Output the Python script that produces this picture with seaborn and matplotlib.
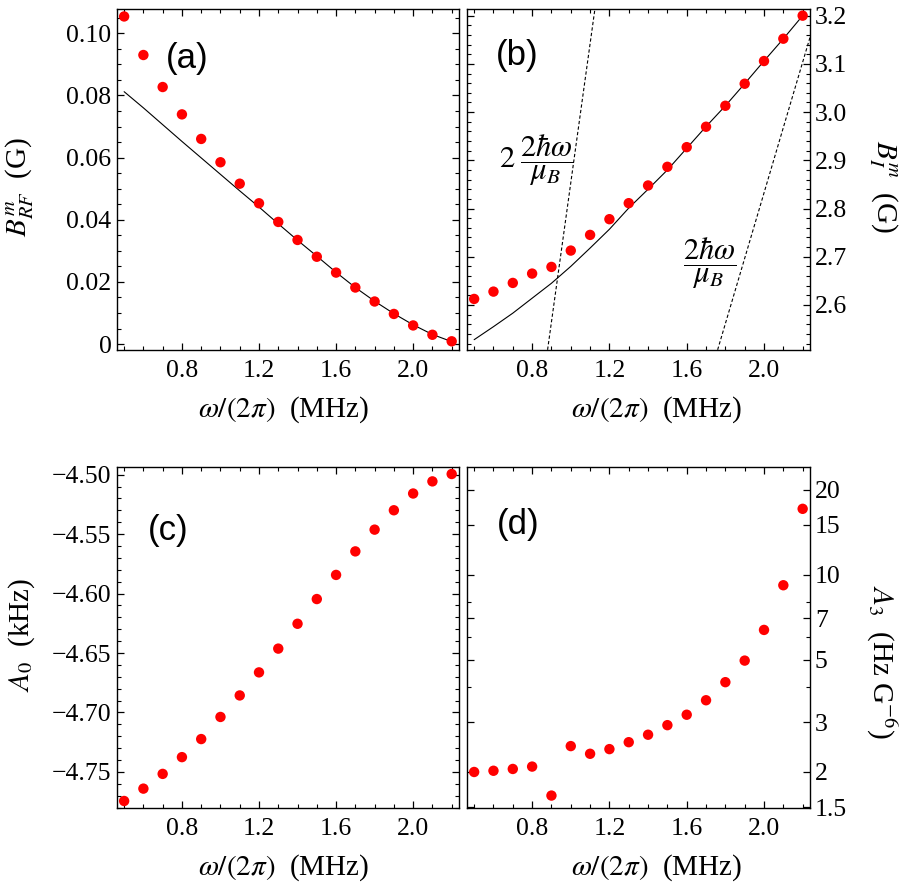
import matplotlib
matplotlib.use('Agg')
import matplotlib.pyplot as plt
import matplotlib.ticker as mticker
import seaborn as sns

# frequency omega/(2 pi) in MHz
freq = [0.5, 0.6, 0.7, 0.8, 0.9, 1.0, 1.1, 1.2, 1.3, 1.4,
        1.5, 1.6, 1.7, 1.8, 1.9, 2.0, 2.1, 2.2]

# (a) B_RF^m (G)
b_rf = [0.1054, 0.0930, 0.0827, 0.0739, 0.0660, 0.0585, 0.0516, 0.0453, 0.0393,
        0.0335, 0.0281, 0.0230, 0.0182, 0.0137, 0.0097, 0.0060, 0.0030, 0.0009]
b_rf_fit = [0.0812, 0.0760, 0.0706, 0.0652, 0.0599, 0.0546, 0.0493, 0.0441, 0.0387,
            0.0334, 0.0283, 0.0231, 0.0182, 0.0138, 0.0098, 0.0062, 0.0031, 0.0008]

# (b) B_I^m (G)
b_i = [2.6125, 2.6277, 2.6457, 2.6651, 2.6789, 2.7128, 2.7453, 2.7779, 2.8111,
       2.8478, 2.8865, 2.9273, 2.9696, 3.0131, 3.0588, 3.1059, 3.1522, 3.2000]
b_i_fit = [2.528, 2.555, 2.583, 2.614, 2.645, 2.680, 2.718, 2.757, 2.801,
           2.840, 2.880, 2.925, 2.970, 3.013, 3.059, 3.106, 3.152, 3.200]
res2_x = [0.880, 1.125]
res2_y = [2.507, 3.214]
res1_x = [1.760, 2.238]
res1_y = [2.507, 3.155]

# (c) A_0 (kHz)
a0 = [-4.7745, -4.7641, -4.7517, -4.7376, -4.7224, -4.7038, -4.6857, -4.6663, -4.6463,
      -4.6254, -4.6046, -4.5843, -4.5645, -4.5462, -4.5299, -4.5158, -4.5056, -4.4994]

# (d) A_3 (Hz G^-6)
a3 = [2.00, 2.02, 2.05, 2.09, 1.65, 2.47, 2.32, 2.41, 2.55,
      2.71, 2.93, 3.19, 3.59, 4.16, 4.96, 6.37, 9.17, 17.1]

sns.set_theme(style='ticks')
plt.rcParams['font.family'] = ['Liberation Serif', 'DejaVu Serif']
plt.rcParams['mathtext.fontset'] = 'stix'
plt.rcParams['axes.linewidth'] = 1.0
plt.rcParams['axes.edgecolor'] = 'black'
plt.rcParams['axes.labelcolor'] = 'black'
plt.rcParams['text.color'] = 'black'

W, H = 900, 889
fig = plt.figure(figsize=(9, 8.89), dpi=100)


def add_ax(x0, x1, y0, y1):
    return fig.add_axes([x0 / W, 1 - y1 / H, (x1 - x0) / W, (y1 - y0) / H])


ax_a = add_ax(117, 459, 9, 350)
ax_b = add_ax(467, 810, 9, 350)
ax_c = add_ax(117, 459, 467, 808)
ax_d = add_ax(467, 810, 467, 808)

tick_fs = 18.5
lab_fs = 21
xlab = r'$\omega/(2\pi)$  (MHz)'


def style(ax, right=False):
    ax.set_xlim(0.463, 2.238)
    ax.xaxis.set_major_locator(mticker.FixedLocator([0.8, 1.2, 1.6, 2.0]))
    ax.xaxis.set_major_formatter(mticker.FixedFormatter(['0.8', '1.2', '1.6', '2.0']))
    ax.xaxis.set_minor_locator(mticker.MultipleLocator(0.1))
    ax.tick_params(which='both', direction='in', top=True, bottom=True,
                   left=True, right=True, colors='black', labelsize=tick_fs)
    ax.tick_params(which='major', length=5, width=0.9)
    ax.tick_params(which='minor', length=2.8, width=0.8)
    ax.tick_params(axis='x', pad=7)
    if right:
        ax.tick_params(axis='y', labelleft=False, labelright=True, pad=3.5)
    else:
        ax.tick_params(axis='y', pad=4)
    for s in ax.spines.values():
        s.set_color('black')
        s.set_linewidth(1.0)


def dots(ax, y):
    sns.scatterplot(x=freq, y=y, color='red', s=56, edgecolor='none',
                    linewidth=0, ax=ax, zorder=3)


# (a)
sns.lineplot(x=freq, y=b_rf_fit, color='black', lw=0.8, ax=ax_a,
             estimator=None, sort=False)
dots(ax_a, b_rf)
style(ax_a)
ax_a.set_ylim(-0.0019, 0.1078)
ax_a.yaxis.set_major_locator(mticker.FixedLocator([0, 0.02, 0.04, 0.06, 0.08, 0.10]))
ax_a.yaxis.set_major_formatter(mticker.FixedFormatter(['0', '0.02', '0.04', '0.06', '0.08', '0.10']))
ax_a.yaxis.set_minor_locator(mticker.MultipleLocator(0.005))
ax_a.set_ylabel(r'$B^{m}_{RF}$  (G)', fontsize=lab_fs, va='center')
ax_a.yaxis.set_label_coords(-0.284, 0.478)
ax_a.set_xlabel(xlab, fontsize=lab_fs, va='center')
ax_a.xaxis.set_label_coords(0.486, -0.176)
ax_a.text(0.205, 0.856, '(a)', transform=ax_a.transAxes, fontsize=25,
          family='Liberation Sans', ha='center', va='center')

# (b)
sns.lineplot(x=freq, y=b_i_fit, color='black', lw=0.8, ax=ax_b,
             estimator=None, sort=False)
sns.lineplot(x=res2_x, y=res2_y, color='black', lw=0.8, ax=ax_b,
             estimator=None, sort=False, linestyle=(0, (3, 2)))
sns.lineplot(x=res1_x, y=res1_y, color='black', lw=0.8, ax=ax_b,
             estimator=None, sort=False, linestyle=(0, (3, 2)))
dots(ax_b, b_i)
style(ax_b, right=True)
ax_b.set_ylim(2.5066, 3.2138)
ax_b.yaxis.set_major_locator(mticker.FixedLocator([2.6, 2.7, 2.8, 2.9, 3.0, 3.1, 3.2]))
ax_b.yaxis.set_major_formatter(mticker.FormatStrFormatter('%.1f'))
ax_b.yaxis.set_minor_locator(mticker.MultipleLocator(0.02))
ax_b.yaxis.set_label_position('right')
ax_b.set_ylabel(r'$B^{m}_{I}$  (G)', fontsize=lab_fs, rotation=270, va='center')
ax_b.yaxis.set_label_coords(1.213, 0.481)
ax_b.set_xlabel(xlab, fontsize=lab_fs, va='center')
ax_b.xaxis.set_label_coords(0.553, -0.176)
ax_b.text(0.146, 0.865, '(b)', transform=ax_b.transAxes, fontsize=25,
          family='Liberation Sans', ha='center', va='center')
ax_b.text(0.203, 0.557, r'$2\;\dfrac{2\hbar\omega}{\mu_B}$', transform=ax_b.transAxes,
          fontsize=22, ha='center', va='center')
ax_b.text(0.708, 0.255, r'$\dfrac{2\hbar\omega}{\mu_B}$', transform=ax_b.transAxes,
          fontsize=22, ha='center', va='center')

# (c)
dots(ax_c, a0)
style(ax_c)
ax_c.set_ylim(-4.7804, -4.4935)
ax_c.yaxis.set_major_locator(mticker.FixedLocator([-4.75, -4.70, -4.65, -4.60, -4.55, -4.50]))
ax_c.yaxis.set_major_formatter(mticker.FuncFormatter(lambda v, p: '\u2212%.2f' % abs(v)))
ax_c.yaxis.set_minor_locator(mticker.MultipleLocator(0.01))
ax_c.set_ylabel(r'$A_0$  (kHz)', fontsize=lab_fs, va='center')
ax_c.yaxis.set_label_coords(-0.279, 0.507)
ax_c.set_xlabel(xlab, fontsize=lab_fs, va='center')
ax_c.xaxis.set_label_coords(0.486, -0.176)
ax_c.text(0.149, 0.815, '(c)', transform=ax_c.transAxes, fontsize=25,
          family='Liberation Sans', ha='center', va='center')

# (d)
dots(ax_d, a3)
style(ax_d, right=True)
ax_d.set_yscale('log')
ax_d.set_ylim(1.491, 24.05)
ax_d.yaxis.set_major_locator(mticker.FixedLocator([1.5, 2, 3, 5, 7, 10, 15, 20]))
ax_d.yaxis.set_major_formatter(mticker.FixedFormatter(['1.5', '2', '3', '5', '7', '10', '15', '20']))
ax_d.yaxis.set_minor_locator(mticker.FixedLocator([4, 6, 8]))
ax_d.yaxis.set_minor_formatter(mticker.NullFormatter())
ax_d.tick_params(which='minor', length=2.8, width=0.8)
ax_d.yaxis.set_label_position('right')
ax_d.set_ylabel(r'$A_3$  (Hz G$^{-6}$)', fontsize=lab_fs, rotation=270, va='center')
ax_d.yaxis.set_label_coords(1.207, 0.428)
ax_d.set_xlabel(xlab, fontsize=lab_fs, va='center')
ax_d.xaxis.set_label_coords(0.553, -0.176)
ax_d.text(0.149, 0.83, '(d)', transform=ax_d.transAxes, fontsize=25,
          family='Liberation Sans', ha='center', va='center')

for ax in (ax_a, ax_b, ax_c, ax_d):
    if ax.get_legend() is not None:
        ax.get_legend().remove()

fig.savefig('out.png', dpi=100)
